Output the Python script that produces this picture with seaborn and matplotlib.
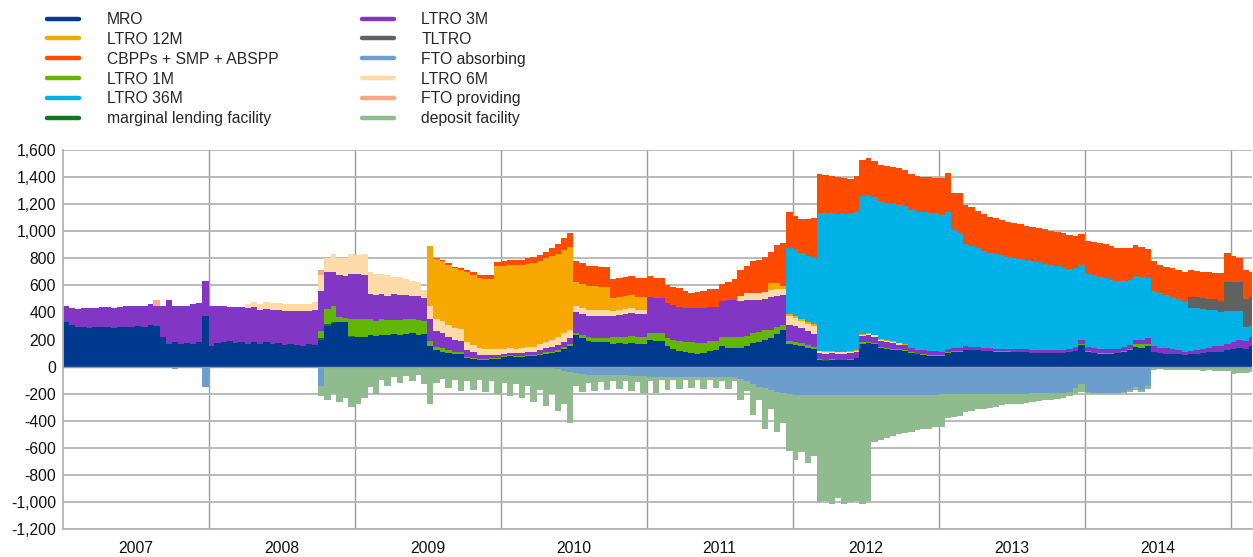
import numpy as np
import pandas as pd
import matplotlib
matplotlib.use("Agg")
import matplotlib.pyplot as plt
import matplotlib.dates as mdates
from matplotlib.ticker import FuncFormatter, FixedLocator
from matplotlib.lines import Line2D
import seaborn as sns

# ---------------- data (EUR bn, semi-monthly observations) ----------------
dates = pd.date_range("2007-01-01", "2015-02-15", freq="SMS")

mro = [
    330, 305, 290, 290, 285, 290, 290, 295, 285, 292, 295, 295, 300, 290, 310, 300, 215, 165, 180, 165, 175, 170, 185, 370,
    150, 175, 180, 190, 175, 180, 170, 185, 170, 180, 170, 175, 160, 170, 160, 155, 165, 160, 200, 300, 320, 330, 330, 220,
    218, 220, 230, 225, 235, 230, 240, 235, 240, 245, 235, 240, 155, 120, 110, 100, 90, 90, 60, 55, 50, 50, 55, 55,
    70, 75, 70, 72, 75, 78, 85, 95, 100, 110, 130, 150, 235, 210, 190, 185, 180, 180, 170, 175, 170, 175, 165, 165,
    195, 190, 190, 150, 130, 115, 105, 100, 95, 100, 115, 120, 150, 140, 135, 135, 150, 175, 185, 195, 210, 240, 270, 165,
    160, 150, 140, 130, 45, 40, 50, 45, 45, 50, 60, 170, 175, 165, 140, 130, 125, 120, 115, 100, 90, 85, 80, 80,
    80, 100, 110, 110, 120, 120, 120, 115, 115, 110, 110, 110, 105, 105, 105, 100, 100, 100, 100, 100, 100, 105, 115, 160,
    110, 100, 95, 95, 95, 100, 110, 120, 145, 140, 150, 110, 100, 95, 95, 90, 85, 90, 95, 100, 105, 110, 110, 120,
    130, 140, 130, 150,
]

ltro_3m = [
    118, 125, 135, 140, 145, 145, 150, 148, 150, 150, 152, 150, 150, 160, 150, 150, 230, 330, 270, 285, 275, 290, 285, 265,
    300, 270, 265, 250, 265, 260, 265, 255, 250, 245, 250, 240, 250, 240, 250, 255, 245, 255, 300, 270, 250, 315, 310, 330,
    333, 330, 185, 187, 185, 180, 190, 185, 180, 175, 175, 165, 160, 115, 110, 100, 90, 85, 50, 40, 30, 30, 25, 25,
    18, 18, 20, 20, 22, 22, 25, 30, 35, 38, 40, 45, 155, 160, 160, 165, 160, 160, 160, 160, 165, 170, 170, 170,
    265, 255, 255, 260, 255, 250, 250, 250, 255, 255, 250, 250, 265, 270, 280, 270, 265, 250, 240, 230, 245, 230, 220, 120,
    115, 110, 100, 95, 45, 45, 45, 45, 45, 45, 40, 45, 45, 45, 42, 40, 38, 35, 35, 30, 30, 30, 30, 30,
    25, 25, 25, 25, 25, 25, 25, 22, 22, 20, 20, 20, 20, 20, 20, 18, 18, 18, 18, 18, 18, 20, 25, 35,
    30, 35, 35, 35, 35, 30, 30, 30, 35, 35, 40, 40, 40, 40, 35, 30, 25, 25, 25, 30, 35, 40, 40, 45,
    50, 55, 60, 70,
]

ltro_1m_start = "2008-10-01"
ltro_1m = [
    50, 110, 120, 35, 30, 130,
    135, 130, 123, 114, 115, 115, 105, 110, 110, 105, 110, 100, 37, 25, 25, 20, 18, 15, 10, 10, 8, 8, 8, 8,
    8, 8, 8, 8, 8, 8, 10, 10, 10, 12, 15, 15, 15, 20, 25, 25, 30, 30, 45, 45, 50, 50, 50, 50,
    55, 60, 58, 60, 70, 75, 80, 80, 80, 75, 75, 70, 70, 80, 80, 80, 75, 70, 70, 75, 60, 50, 40, 25,
    25, 22, 20, 18, 5, 5, 5, 5, 5, 5, 5, 10, 10, 10, 8, 8, 8, 7, 6, 5, 5, 5, 4, 4,
    3, 5, 5, 4, 4, 3, 3, 3, 3, 2, 2, 2, 2, 2, 2, 2, 2, 2, 2, 2, 2, 2, 3, 5,
    3, 3, 3, 3, 3, 3, 5, 8, 20, 25, 20,
]

ltro_6m_start = "2008-04-01"
ltro_6m = [
    25, 35, 45, 50, 50, 55, 55, 55, 50, 55, 55, 60, 120, 110, 130, 125, 130, 150,
    135, 150, 160, 160, 150, 150, 130, 130, 115, 110, 105, 60, 98, 95, 95, 90, 85, 85, 60, 55, 50, 45, 40, 40,
    35, 35, 35, 35, 38, 40, 45, 50, 55, 58, 60, 60, 45, 45, 45, 45, 45, 45, 37, 37, 37, 35, 35, 35,
    0, 0, 0, 0, 0, 0, 0, 0, 0, 0, 0, 0, 0, 0, 0, 40, 50, 50, 50, 50, 50, 50, 45, 60,
    57, 55, 55, 55, 12, 12, 10, 10, 10, 10, 10, 10, 10, 10, 10, 10, 10, 10, 5,
]

ltro_12m_start = "2009-07-01"
ltro_12m = [
    442, 442, 442, 442, 442, 442, 517, 517, 517, 517, 517, 614,
    614, 614, 614, 614, 614, 614, 614, 614, 614, 614, 614, 614, 172, 172, 172, 172, 172, 172, 97, 97, 97, 97, 97, 97,
    0, 0, 0, 0, 0, 0, 0, 0, 0, 0, 0, 0, 0, 0, 0, 0, 0, 0, 0, 0, 55, 45, 20, 15,
    13, 13, 13, 13, 5, 5, 5, 5, 5, 5, 5, 5, 5, 5, 5, 5, 5, 5, 5,
]

ltro_36m_start = "2011-12-15"
ltro_36m = [
    489,
    489, 489, 489, 489, 1019, 1019, 1019, 1019, 1019, 1019, 1019, 1019, 1019, 1019, 1019, 1019, 1019, 1019, 1019, 1019,
    1019, 1019, 1019, 1019,
    1010, 1010, 870, 850, 760, 745, 730, 715, 700, 700, 690, 680, 675, 668, 662, 660, 650, 640, 630, 620, 610, 595, 585, 550,
    540, 540, 530, 520, 510, 500, 490, 480, 470, 460, 445, 410, 400, 395, 385, 380, 370, 320, 310, 295, 280, 265, 255, 245,
    230, 215, 100, 80,
]

tltro_start = "2014-09-15"
tltro = [82, 82, 82, 82, 82, 82, 212, 212, 212, 212, 212]

cbpp_start = "2009-07-15"
cbpp = [
    5, 8, 10, 12, 14, 17, 20, 23, 26, 28, 30,
    33, 35, 38, 40, 42, 45, 48, 50, 60, 75, 90, 101, 160, 155, 150, 150, 150, 150, 135, 140, 140, 140, 140, 140,
    155, 150, 150, 133, 135, 140, 125, 115, 120, 125, 135, 135, 125, 135, 155, 185, 200, 235, 245, 260, 230, 280, 315, 270,
    250, 250, 270, 295, 285, 285, 275, 270, 265, 250, 270, 270, 275, 265, 266, 270, 270, 270, 270, 265, 265, 265, 265, 262,
    275, 290, 275, 290, 285, 285, 275, 270, 268, 264, 260, 258, 255, 255, 252, 254, 255, 255, 255, 255, 255, 250, 240, 230,
    245, 245, 250, 250, 245, 245, 240, 235, 230, 220, 215, 220, 210, 205, 210, 210, 215, 195, 195, 195, 195, 195, 205, 215,
    195, 180, 210, 190,
]

fto_providing = {"2007-08-15": 45, "2008-10-01": 30}
marginal_lending = {"2008-10-01": 10, "2008-10-15": 15, "2008-11-01": 8, "2008-12-15": 5,
                    "2012-03-01": 5, "2012-03-15": 5}

fto_absorbing_early = {"2007-08-15": -10, "2007-10-01": -15, "2007-12-15": -150, "2008-10-01": -140}
fto_absorbing_start = "2010-05-15"
fto_absorbing = [
    -20, -35, -40, -50, -55, -60, -60, -60, -62, -62, -63, -65, -67, -70, -72,
    -74, -75, -76, -76, -76, -76, -76, -77, -77, -77, -77, -77, -77, -78, -80, -95, -110, -130, -150, -160, -175, -185, -195, -205,
    -210, -210, -211, -211, -212, -212, -212, -212, -212, -212, -212, -212, -212, -212, -212, -212, -212, -211, -211, -210, -210, -209, -209, -208,
    -205, -205, -204, -204, -203, -203, -202, -202, -201, -201, -200, -200, -200, -199, -199, -198, -198, -197, -197, -196, -195, -190, -160, -130,
    -190, -195, -195, -195, -195, -195, -190, -175, -150, -170, -140,
]

deposit_start = "2008-10-01"
deposit = [
    -80, -250, -200, -260, -230, -300,
    -280, -230, -150, -200, -100, -140, -80, -120, -70, -110, -60, -130, -280, -120, -90, -160, -100, -180, -110, -170, -100, -190, -110, -200,
    -120, -220, -130, -230, -140, -260, -170, -290, -200, -310, -240, -380, -90, -130, -60, -120, -55, -110, -45, -100, -45, -110, -45, -120,
    -30, -120, -25, -100, -25, -90, -25, -80, -25, -90, -25, -80, -30, -90, -30, -150, -70, -230, -100, -300, -140, -300, -220, -420,
    -480, -420, -500, -450, -790, -780, -800, -760, -800, -790, -780, -800, -780, -343, -330, -315, -300, -285, -280, -270, -260, -255, -250, -240,
    -240, -175, -170, -160, -130, -125, -115, -110, -105, -95, -85, -80, -78, -75, -72, -65, -55, -50, -48, -45, -40, -30, -40, -60,
    -15, -10, -10, -8, -8, -8, -8, -15, -20, -20, -25, -25, -20, -25, -22, -25, -28, -25, -28, -30, -27, -30, -32, -30,
    -55, -50, -45, -40,
]

year_labels = ["2007", "2008", "2009", "2010", "2011", "2012", "2013", "2014"]
y_ticks = [-1200, -1000, -800, -600, -400, -200, 0, 200, 400, 600, 800, 1000, 1200, 1400, 1600]


# ---------------- build table ----------------
def seg(start, values):
    idx = pd.date_range(start, periods=len(values), freq="SMS")
    return pd.Series(values, index=idx, dtype=float).reindex(dates, fill_value=0.0)


def sparse(d):
    s = pd.Series({pd.Timestamp(k): float(v) for k, v in d.items()})
    return s.reindex(dates, fill_value=0.0)


df = pd.DataFrame({
    "MRO": pd.Series(mro, index=dates, dtype=float),
    "marginal lending facility": sparse(marginal_lending),
    "LTRO 1M": seg(ltro_1m_start, ltro_1m),
    "LTRO 3M": pd.Series(ltro_3m, index=dates, dtype=float),
    "LTRO 6M": seg(ltro_6m_start, ltro_6m),
    "LTRO 12M": seg(ltro_12m_start, ltro_12m),
    "LTRO 36M": seg(ltro_36m_start, ltro_36m),
    "TLTRO": seg(tltro_start, tltro),
    "CBPPs + SMP + ABSPP": seg(cbpp_start, cbpp),
    "FTO providing": sparse(fto_providing),
    "FTO absorbing": seg(fto_absorbing_start, fto_absorbing) + sparse(fto_absorbing_early),
    "deposit facility": seg(deposit_start, deposit),
})
x_end = pd.Timestamp("2015-02-23")
df.loc[x_end] = df.iloc[-1]

colors = {
    "MRO": "#003A8F",
    "LTRO 12M": "#F6A800",
    "CBPPs + SMP + ABSPP": "#FF4B00",
    "LTRO 1M": "#62B500",
    "LTRO 36M": "#00B1E7",
    "marginal lending facility": "#0B7A1E",
    "LTRO 3M": "#8236C4",
    "TLTRO": "#616161",
    "FTO absorbing": "#6C9DCD",
    "LTRO 6M": "#FDDBA8",
    "FTO providing": "#F8A882",
    "deposit facility": "#8FBB8E",
}

pos_order = ["MRO", "marginal lending facility", "LTRO 1M", "LTRO 3M", "LTRO 6M", "LTRO 12M",
             "LTRO 36M", "TLTRO", "CBPPs + SMP + ABSPP", "FTO providing"]
neg_order = ["FTO absorbing", "deposit facility"]
legend_order = ["MRO", "LTRO 12M", "CBPPs + SMP + ABSPP", "LTRO 1M", "LTRO 36M", "marginal lending facility",
                "LTRO 3M", "TLTRO", "FTO absorbing", "LTRO 6M", "FTO providing", "deposit facility"]

# ---------------- plot ----------------
sns.set_theme(style="white")
plt.rcParams["font.family"] = ["Liberation Sans", "DejaVu Sans"]

W, H = 1253, 557
fig = plt.figure(figsize=(W / 100, H / 100), dpi=100)
L, R, T, B = 63, 1252, 150, 529
ax = fig.add_axes([L / W, 1 - B / H, (R - L) / W, (B - T) / H])

xv = df.index
for order in (pos_order, neg_order):
    ax.stackplot(xv, *[df[c].values for c in order],
                 colors=[colors[c] for c in order], step="post", zorder=2,
                 linewidth=0, edgecolor="none")

ax.axhline(0, color="#9a9a9a", lw=1.0, zorder=3)

ax.set_ylim(-1200, 1600)
ax.set_xlim(pd.Timestamp("2007-01-01"), x_end)
ax.yaxis.set_major_locator(FixedLocator(y_ticks))
ax.yaxis.set_major_formatter(FuncFormatter(lambda v, p: f"{v:,.0f}"))

years = [pd.Timestamp(f"{y}-01-01") for y in range(2008, 2016)]
mids = [pd.Timestamp(f"{y}-07-02") for y in year_labels]
ax.set_xticks(years)
ax.set_xticklabels([""] * len(years))
ax.set_xticks(mids, minor=True)
ax.set_xticklabels(year_labels, minor=True)

ax.set_axisbelow(True)
ax.yaxis.grid(True, color="#b4b4b4", lw=1.3)
ax.xaxis.grid(True, which="major", color="#9c9c9c", lw=1.0)

ax.tick_params(axis="y", length=0, pad=5, labelsize=11.3, labelcolor="#111111")
ax.tick_params(axis="x", which="major", length=9, width=1.0, color="#9c9c9c", direction="out")
ax.tick_params(axis="x", which="minor", length=0, pad=8.5, labelsize=11.3, labelcolor="#111111")

for s in ["top", "right"]:
    ax.spines[s].set_visible(False)
for s in ["left", "bottom"]:
    ax.spines[s].set_color("#b4b4b4")
    ax.spines[s].set_linewidth(1.3)

handles = [Line2D([0], [0], color=colors[c], lw=3.2) for c in legend_order]
fig.legend(handles, legend_order, ncol=2, loc="upper left",
           bbox_to_anchor=(47 / W, 1 - 12 / H), frameon=False, fontsize=11.3,
           handlelength=2.05, handletextpad=1.75, columnspacing=5.3,
           labelspacing=0.31, borderpad=0, borderaxespad=0)

fig.savefig("out.png", dpi=100)
